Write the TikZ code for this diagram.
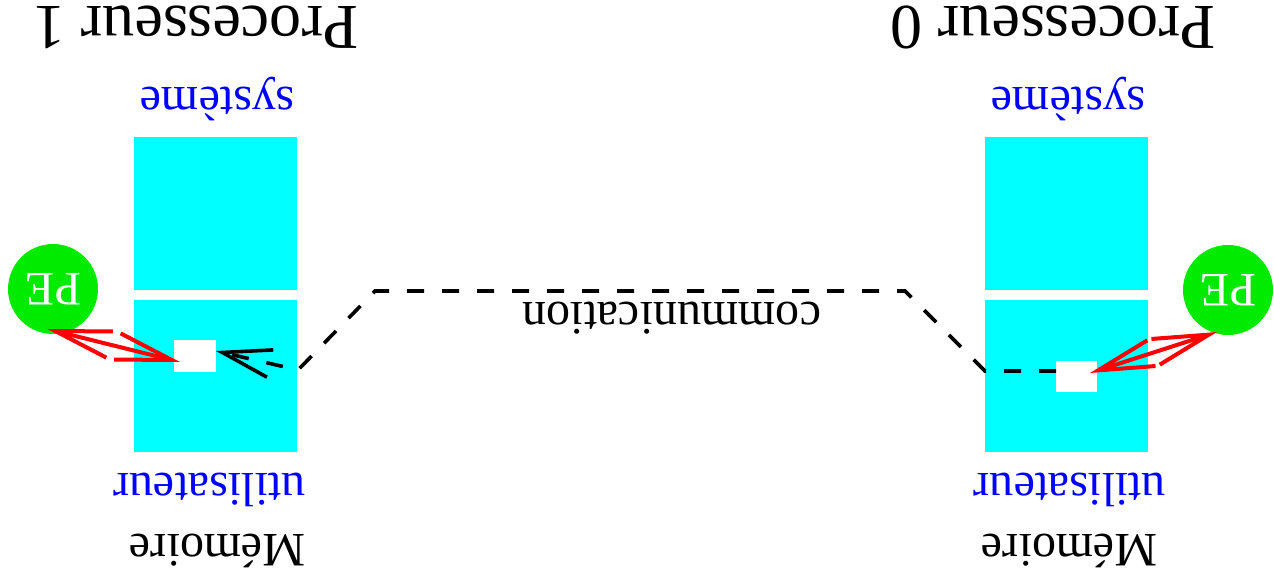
\documentclass[tikz,border=0pt]{standalone}
\usepackage{fontspec}
\setmainfont{Liberation Serif}
\usetikzlibrary{arrows.meta}
\definecolor{memcyan}{RGB}{0,255,255}
\definecolor{pegreen}{RGB}{0,235,0}
\begin{document}
\begin{tikzpicture}[x=0.5pt,y=-0.5pt,
  membox/.style={fill=memcyan, draw=none, inner sep=0, minimum width=81.5pt},
  sysbox/.style={membox, minimum height=76.5pt},
  userbox/.style={membox, minimum height=76pt},
  slot/.style={fill=white, draw=none, inner sep=0},
  pe/.style={circle, fill=pegreen, draw=none, inner sep=0, minimum size=45pt,
    text=white, font=\fontsize{24}{26}\selectfont, rotate=180},
  lbl/.style={rotate=180, anchor=base, inner sep=0, font=\fontsize{24}{26}\selectfont},
  title/.style={lbl, font=\fontsize{32}{36}\selectfont},
  zone/.style={lbl, text=blue},
  barb/.tip={Straight Barb[length=28pt,width=13.5pt]},
  access/.style={draw=red, line width=2pt, barb-barb},
  message/.style={draw=black, line width=1.8pt, dash pattern=on 8.5pt off 9pt,
    -{Straight Barb[length=24.5pt,width=14pt]}}
]
\useasboundingbox (0,0) rectangle (1274,577);

% memory columns
\node[sysbox]  (sys1)  at (215.5,213.5) {};
\node[userbox] (usr1)  at (215.5,376)   {};
\node[sysbox]  (sys0)  at (1066.5,213.5) {};
\node[userbox] (usr0)  at (1066.5,376)   {};

% buffers in user memory
\node[slot, minimum width=21pt, minimum height=16pt]     (buf1) at (195,356)    {};
\node[slot, minimum width=20.5pt, minimum height=15.5pt] (buf0) at (1076.5,376.5) {};

% processing elements
\node[pe] (pe1) at (53,289)   {PE};
\node[pe] (pe0) at (1228,290) {PE};

% titles and labels
\node[title] (t1) at (196,7)    {Processeur 1};
\node[title] (t0) at (1053,7)   {Processeur 0};
\node[zone]  (s1) at (217.5,88) {système};
\node[zone]  (s0) at (1068.5,88) {système};
\node[zone]  (u1) at (209.5,473) {utilisateur};
\node[zone]  (u0) at (1070,473)  {utilisateur};
\node[lbl]   (m1) at (217.5,534) {Mémoire};
\node[lbl]   (m0) at (1069.5,534) {Mémoire};
\node[lbl]   (com) at (672,302)  {communication};

% connector end points
\coordinate (pe1end) at (47,329);
\coordinate (buf1in) at (180,362);
\coordinate (buf0in) at (1090,373);
\coordinate (pe0end) at (1217,332);
\coordinate (buf0out) at (1056,371);
\coordinate (buf1out) at (216,351);

% message path between the two buffers
\draw[message] (buf0out) -- (985,371) -- (905,291) -- (375,291) -- (298,370) -- (buf1out);

% local memory accesses
\draw[access] (pe1end) -- (buf1in);
\draw[access] (buf0in) -- (pe0end);
\end{tikzpicture}
\end{document}
